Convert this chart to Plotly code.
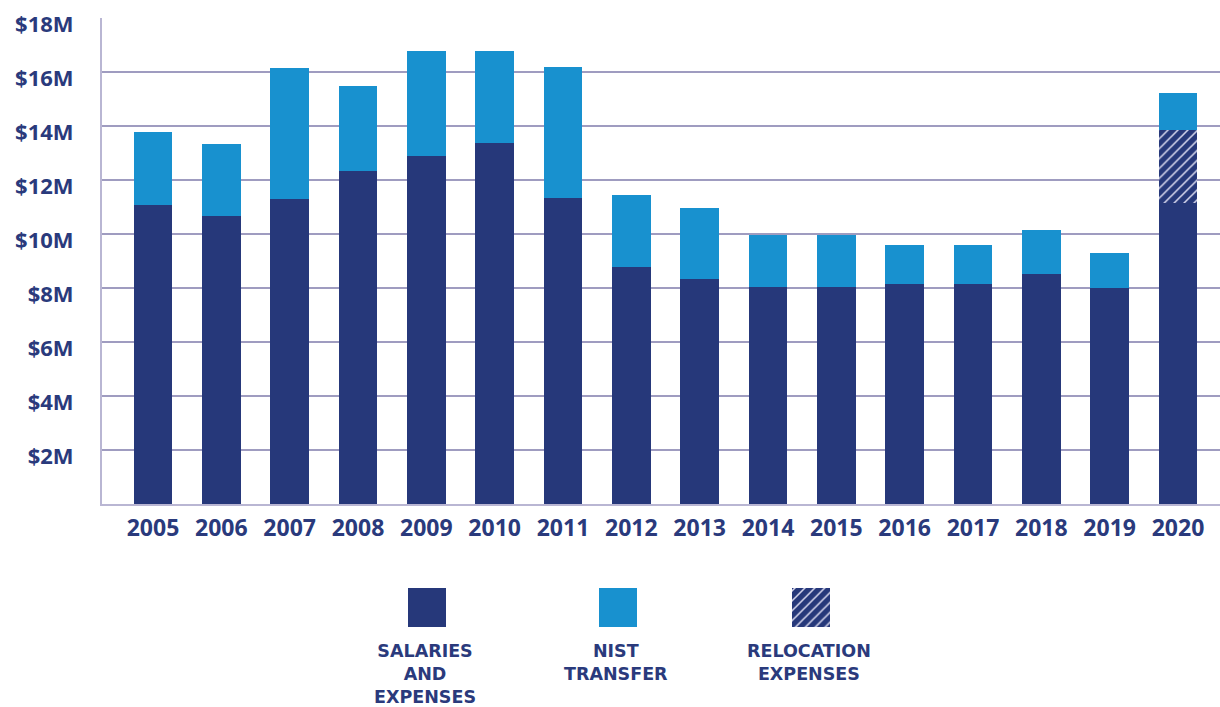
import plotly.graph_objects as go

years = [str(y) for y in range(2005, 2021)]
salaries = [11.08, 10.67, 11.30, 12.32, 12.88, 13.37, 11.35, 8.77, 8.32, 8.05, 8.05, 8.14, 8.14, 8.51, 8.01, 11.14]
relocation = [0, 0, 0, 0, 0, 0, 0, 0, 0, 0, 0, 0, 0, 0, 0, 2.71]
nist = [2.68, 2.66, 4.83, 3.17, 3.89, 3.40, 4.82, 2.66, 2.65, 1.92, 1.92, 1.47, 1.47, 1.65, 1.29, 1.39]
ytick_vals = [2, 4, 6, 8, 10, 12, 14, 16, 18]
ytick_text = ["$2M", "$4M", "$6M", "$8M", "$10M", "$12M", "$14M", "$16M", "$18M"]
legend_names = ["SALARIES<br>AND<br>EXPENSES", "NIST<br>TRANSFER", "RELOCATION<br>EXPENSES"]

NAVY = "#26387a"
BLUE = "#1891cf"
TEXT = "#2a3a7c"
GRID = "#9f9cc0"
AXIS = "#b9b6d3"
FONT = "Open Sans"
LEG_FONT = "DejaVu Sans"

W, H = 1220, 707
T, B, L, R = 18, 0, 102, 0
plot_h = H - T - B
main_bottom_px = 504
main_dom0 = (H - main_bottom_px) / plot_h
leg_top_px, leg_bot_px = 588, 627
leg_dom = [(H - leg_bot_px) / plot_h, (H - leg_top_px) / plot_h]

fig = go.Figure()
bw = 0.565
hatch = dict(shape="/", fgcolor="#d8d8ee", bgcolor=NAVY, size=7, solidity=0.22, fillmode="replace")
fig.add_trace(go.Bar(x=years, y=salaries, name="Salaries and Expenses", marker=dict(color=NAVY, line=dict(width=0)), width=bw))
fig.add_trace(go.Bar(x=years, y=relocation, name="Relocation Expenses", width=bw,
                     marker=dict(color=NAVY, line=dict(width=0), pattern=hatch)))
fig.add_trace(go.Bar(x=years, y=nist, name="NIST Transfer", marker=dict(color=BLUE, line=dict(width=0)), width=bw))

# legend swatches on a helper axis (pixel-like units)
leg_x = [427, 618, 811]
leg_colors = [NAVY, BLUE, NAVY]
for i in range(3):
    pat = hatch if i == 2 else dict(shape="")
    fig.add_trace(go.Bar(x=[leg_x[i]], y=[1], width=38, xaxis="x2", yaxis="y2",
                         marker=dict(color=leg_colors[i], line=dict(width=0), pattern=pat), showlegend=False, hoverinfo="skip"))

leg_text_top_px = 640
for i, t in enumerate(legend_names):
    fig.add_annotation(x=leg_x[i] - 2, xref="x2", y=(H - leg_text_top_px) / plot_h, yref="paper",
                       text=t, showarrow=False, xanchor="center", yanchor="top", align="center", borderpad=0,
                       font=dict(family=LEG_FONT, size=17.5, color=TEXT, weight="bold"))

fig.update_layout(
    width=W, height=H, barmode="stack", bargap=0.4,
    margin=dict(l=L, r=R, t=T, b=B, pad=0),
    paper_bgcolor="white", plot_bgcolor="white", showlegend=False,
    xaxis=dict(type="category", range=[-0.746, 15.615], domain=[0, 1], anchor="y",
               showgrid=False, showline=True, linecolor=AXIS, linewidth=2, ticks="",
               tickfont=dict(family=FONT, size=23, color=TEXT, weight="bold"), ticklabelstandoff=2),
    yaxis=dict(range=[0, 18], domain=[main_dom0, 1], anchor="x",
               tickvals=ytick_vals, ticktext=ytick_text, showgrid=True, gridcolor=GRID, gridwidth=2,
               showline=True, linecolor=AXIS, linewidth=2, zeroline=False, ticks="",
               tickfont=dict(family=FONT, size=22, color=TEXT, weight="bold"), ticklabelstandoff=22, ticklabelshift=6),
    xaxis2=dict(range=[L, W], domain=[0, 1], anchor="y2", visible=False, fixedrange=True),
    yaxis2=dict(range=[0, 1], domain=leg_dom, anchor="x2", visible=False, fixedrange=True),
)

fig.write_html("out.html")
